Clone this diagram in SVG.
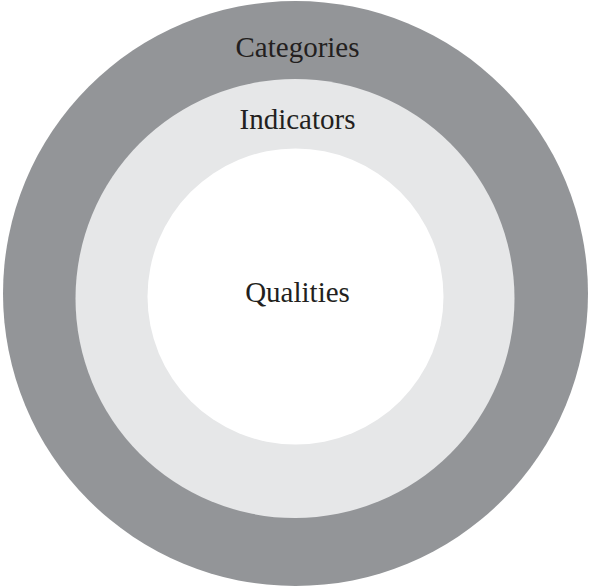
<svg xmlns="http://www.w3.org/2000/svg" width="589" height="588" viewBox="0 0 589 588">
<style>
.lbl{font-family:"Liberation Serif","Times New Roman",serif;font-size:29px;fill:#231f20;text-anchor:middle}
</style>
<rect width="589" height="588" fill="#ffffff"/>
<g id="categories">
<circle cx="295.5" cy="293.5" r="292.5" fill="#939598"/>
<text class="lbl" x="297.5" y="57">Categories</text>
</g>
<g id="indicators">
<circle cx="295" cy="298.5" r="219.5" fill="#e6e7e8"/>
<text class="lbl" x="297.5" y="129">Indicators</text>
</g>
<g id="qualities">
<circle cx="295.5" cy="296.5" r="148" fill="#ffffff"/>
<text class="lbl" x="297.5" y="302">Qualities</text>
</g>
<g id="connectors"/>
</svg>
